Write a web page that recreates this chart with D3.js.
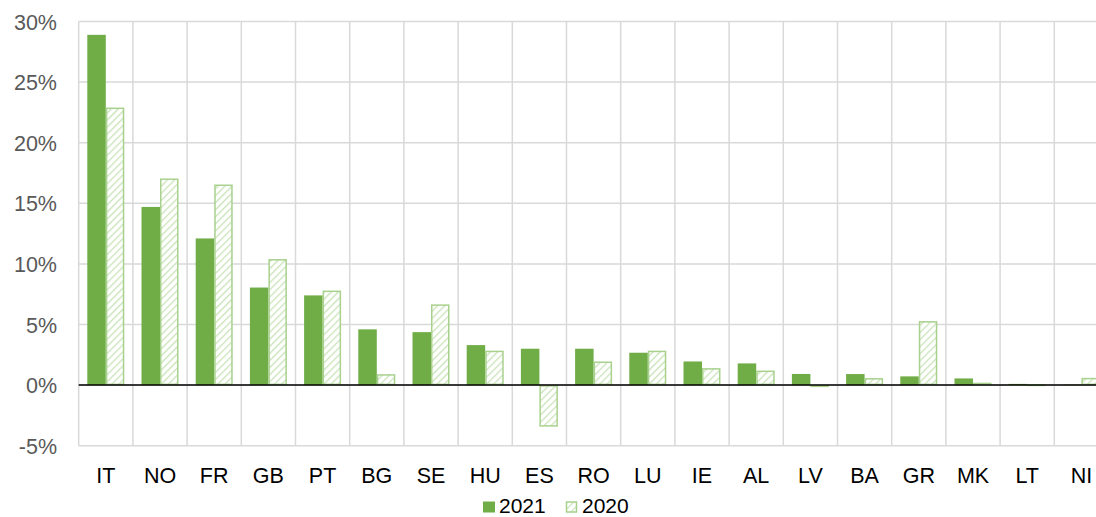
<!DOCTYPE html>
<html>
<head>
<meta charset="utf-8">
<script src="https://cdn.jsdelivr.net/npm/d3@7"></script>
<style>
body { margin: 0; background: #fff; }
text { font-family: "Liberation Sans", Arial, sans-serif; }
</style>
</head>
<body>
<div id="chart"></div>
<script>
const countries = ["IT","NO","FR","GB","PT","BG","SE","HU","ES","RO","LU","IE","AL","LV","BA","GR","MK","LT","NI"];
const values2021 = [28.9,14.7,12.1,8.05,7.4,4.6,4.37,3.3,3.0,3.0,2.67,1.95,1.79,0.92,0.91,0.72,0.55,0.1,0.03];
const values2020 = [22.9,17.05,16.55,10.4,7.8,0.9,6.66,2.84,-3.43,1.95,2.84,1.4,1.2,-0.12,0.58,5.28,0.2,0.08,0.6];
const yTicks = [-5,0,5,10,15,20,25,30];
const series = ["2021","2020"];

const width = 1096, height = 517;
const plotLeft = 78.7, plotTop = 21.5, plotBottom = 445.7;
const band = 54.2;

const svg = d3.select("#chart").append("svg")
    .attr("width", width)
    .attr("height", height);

const defs = svg.append("defs");
const pat = defs.append("pattern")
    .attr("id","hatch")
    .attr("patternUnits","userSpaceOnUse")
    .attr("width",5)
    .attr("height",5)
    .attr("patternTransform","rotate(45)");
pat.append("rect").attr("width",5).attr("height",5).attr("fill","#fff");
pat.append("line")
    .attr("x1",0).attr("y1",0).attr("x2",0).attr("y2",5)
    .attr("stroke","#c9e3b8")
    .attr("stroke-width",2.6);

const xScale = d3.scaleBand().domain(countries).range([plotLeft, plotLeft + band*countries.length]);
const x1 = d3.scaleBand().domain(series).range([8.6, band - 8.6]);
const yScale = d3.scaleLinear().domain([-5,30]).range([plotBottom, plotTop]);

// horizontal grid
svg.append("g")
    .selectAll("line")
    .data(yTicks)
    .enter()
    .append("line")
    .attr("x1", plotLeft).attr("x2", width)
    .attr("y1", d => yScale(d)).attr("y2", d => yScale(d))
    .attr("stroke","#d9d9d9")
    .attr("stroke-width",1.5);

// vertical grid
svg.append("g")
    .selectAll("line")
    .data(countries)
    .enter()
    .append("line")
    .attr("x1", d => xScale(d)).attr("x2", d => xScale(d))
    .attr("y1", plotTop).attr("y2", plotBottom)
    .attr("stroke","#d9d9d9")
    .attr("stroke-width",1.5);

// y labels
svg.append("g")
    .selectAll("text")
    .data(yTicks)
    .enter()
    .append("text")
    .attr("x", 57)
    .attr("y", d => yScale(d) + 8)
    .attr("text-anchor","end")
    .attr("font-size","21.5px")
    .attr("fill","#595959")
    .text(d => d + "%");

// bars 2021
svg.append("g")
    .selectAll("rect")
    .data(countries)
    .enter()
    .append("rect")
    .attr("x", d => xScale(d) + x1("2021"))
    .attr("width", x1.bandwidth())
    .attr("y", (d,i) => yScale(Math.max(0, values2021[i])))
    .attr("height", (d,i) => Math.abs(yScale(values2021[i]) - yScale(0)))
    .attr("fill","#70ad47");

// bars 2020
svg.append("g")
    .selectAll("rect")
    .data(countries)
    .enter()
    .append("rect")
    .attr("x", d => xScale(d) + x1("2020") + 0.75)
    .attr("width", x1.bandwidth() - 1.5)
    .attr("y", (d,i) => yScale(Math.max(0, values2020[i])) + 0.75)
    .attr("height", (d,i) => Math.max(0.5, Math.abs(yScale(values2020[i]) - yScale(0)) - 1.5))
    .attr("fill","url(#hatch)")
    .attr("stroke","#a9d18e")
    .attr("stroke-width",1.5);

// zero line
svg.append("line")
    .attr("x1", plotLeft).attr("x2", width)
    .attr("y1", yScale(0)).attr("y2", yScale(0))
    .attr("stroke","#000")
    .attr("stroke-width",1.5);

// x labels
svg.append("g")
    .selectAll("text")
    .data(countries)
    .enter()
    .append("text")
    .attr("x", d => xScale(d) + xScale.bandwidth()/2)
    .attr("y", 482.5)
    .attr("text-anchor","middle")
    .attr("font-size","21.5px")
    .attr("fill","#000")
    .text(d => d);

// legend
const legend = svg.append("g");
legend.append("rect")
    .attr("x",483).attr("y",501.5).attr("width",12).attr("height",11)
    .attr("fill","#70ad47");
legend.append("text")
    .attr("x",499).attr("y",512.5)
    .attr("font-size","21px")
    .text(series[0]);
legend.append("rect")
    .attr("x",566.5).attr("y",502).attr("width",10).attr("height",10)
    .attr("fill","url(#hatch)")
    .attr("stroke","#a9d18e")
    .attr("stroke-width",1.5);
legend.append("text")
    .attr("x",582).attr("y",512.5)
    .attr("font-size","21px")
    .text(series[1]);
</script>
</body>
</html>
